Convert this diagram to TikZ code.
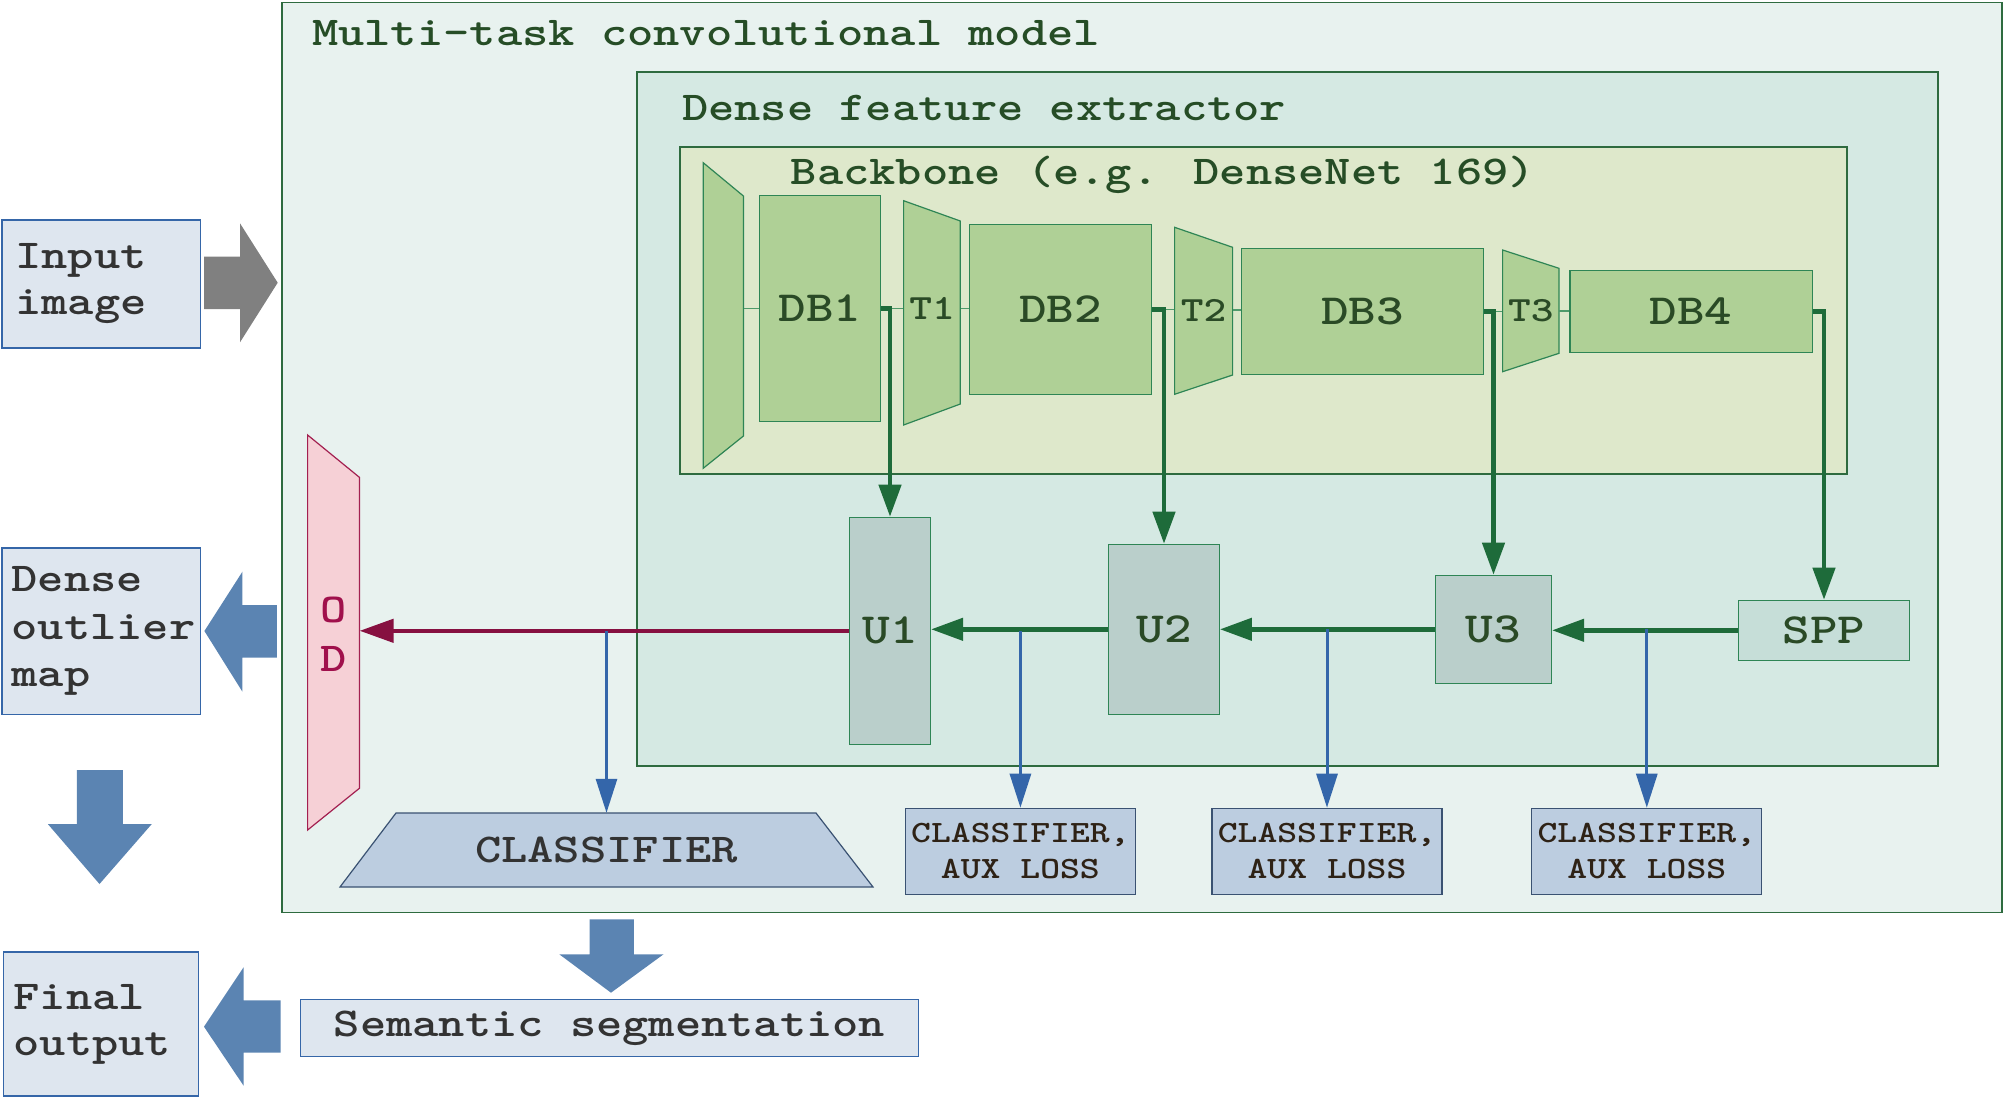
\documentclass[tikz,border=0pt]{standalone}
\usepackage{fontspec}
\usetikzlibrary{arrows.meta,calc}
\newfontfamily\tf[FakeStretch=1.22]{lmmonolt10-bold.otf}
\definecolor{frameg}{HTML}{2E6B3F}
\definecolor{outerf}{HTML}{E8F2EF}
\definecolor{dfef}{HTML}{D5E9E3}
\definecolor{bbf}{HTML}{DEE8CB}
\definecolor{blkf}{HTML}{AFD096}
\definecolor{blkd}{HTML}{2E8555}
\definecolor{ufill}{HTML}{BACFCB}
\definecolor{sppf}{HTML}{C6DED8}
\definecolor{titleg}{HTML}{264D26}
\definecolor{lblg}{HTML}{2A4A26}
\definecolor{garr}{HTML}{1E6B3A}
\definecolor{thinln}{HTML}{4E9A6A}
\definecolor{magc}{HTML}{861040}
\definecolor{bluec}{HTML}{3466AA}
\definecolor{clsf}{HTML}{BCCDE0}
\definecolor{clsd}{HTML}{3A5272}
\definecolor{lboxf}{HTML}{DEE6EF}
\definecolor{lboxd}{HTML}{3566A8}
\definecolor{bigb}{HTML}{5B84B2}
\definecolor{grayarr}{HTML}{808080}
\definecolor{odf}{HTML}{F6D0D6}
\definecolor{odd}{HTML}{A32050}
\definecolor{odt}{HTML}{A0104C}
\definecolor{auxt}{HTML}{2E2216}
\definecolor{darkt}{HTML}{333333}
\tikzset{
  container/.style={draw=frameg, line width=1.5pt, inner sep=0, anchor=north west},
  ttl/.style={anchor=base west, inner sep=0, text=titleg, font=\tf\fontsize{41}{46}\selectfont},
  blk/.style={draw=blkd, fill=blkf, line width=1.2pt, inner sep=0, text=lblg, font=\tf\fontsize{43}{50}\selectfont},
  trapshape/.style={draw=blkd, fill=blkf, line width=1.2pt},
  tlabel/.style={inner sep=0, text=lblg, font=\tf\fontsize{35.5}{40}\selectfont},
  ublk/.style={draw=blkd, fill=ufill, line width=1.2pt, inner sep=0, text=lblg, font=\tf\fontsize{43}{50}\selectfont},
  thinconn/.style={draw=thinln, line width=1.2pt},
  garrow/.style={draw=garr, line width=4.5pt, -{Triangle[length=32pt,width=22pt]}},
  barrow/.style={draw=bluec, line width=3pt, -{Triangle[length=34pt,width=21pt]}},
  marrow/.style={draw=magc, line width=4.5pt, -{Triangle[length=34pt,width=23pt]}},
  auxbox/.style={draw=clsd, fill=clsf, line width=1.2pt, inner sep=0, align=center, text=auxt, minimum width=230pt, minimum height=86pt, font=\tf\fontsize{31}{36}\selectfont},
  lbox/.style={draw=lboxd, fill=lboxf, line width=1.2pt, anchor=north west, align=left, text=darkt, font=\tf\fontsize{41}{46}\selectfont},
  bigarrow/.style={fill=bigb, draw=none},
}
\begin{document}
\begin{tikzpicture}[x=1pt,y=-1pt]
\useasboundingbox (0,0) rectangle (2003,1096);

% containers
\node[container, fill=outerf, minimum width=1720pt, minimum height=910pt] (mtm) at (281,1.5) {};
\node[ttl] (mtmt) at (312,45.7) {Multi-task convolutional model};
\node[container, fill=dfef, minimum width=1301pt, minimum height=694pt] (dfe) at (636,71) {};
\node[ttl] (dfet) at (682,120) {Dense feature extractor};
\node[container, fill=bbf, minimum width=1167pt, minimum height=327pt] (bb) at (679,146) {};
\node[ttl] (bbt) at (790.7,184.3) {Backbone (e.g. DenseNet 169)};

% backbone
\draw[trapshape] (703.2,162.7) -- (743.4,196) -- (743.4,436) -- (703.2,468.3) -- cycle;
\node[inner sep=0, minimum width=40.2pt, minimum height=240pt] (stem) at (723.3,316) {};
\node[blk, minimum width=121pt, minimum height=226pt] (db1) at (820,308.3) {DB1};
\draw[trapshape] (903.6,200.7) -- (960.3,221) -- (960.3,404) -- (903.6,425) -- cycle;
\node[tlabel, minimum width=56.7pt, minimum height=183pt] (t1) at (932,308.5) {T1};
\node[blk, minimum width=182pt, minimum height=170pt] (db2) at (1060.4,309.3) {DB2};
\draw[trapshape] (1174.6,227.3) -- (1232.6,247.3) -- (1232.6,375) -- (1174.6,394.3) -- cycle;
\node[tlabel, minimum width=58pt, minimum height=128pt] (t2) at (1203.6,310) {T2};
\node[blk, minimum width=242pt, minimum height=126pt] (db3) at (1362.5,311.3) {DB3};
\draw[trapshape] (1502.6,250) -- (1559,268.3) -- (1559,353.3) -- (1502.6,371.7) -- cycle;
\node[tlabel, minimum width=56.4pt, minimum height=85pt] (t3) at (1530.8,311) {T3};
\node[blk, minimum width=242.5pt, minimum height=82pt] (db4) at (1691.2,311.3) {DB4};

\draw[thinconn] (stem.east |- db1.west) -- (db1.west);
\draw[thinconn] (db1.east) -- (db1.east -| t1.west);
\draw[thinconn] (t1.east) -- (t1.east -| db2.west);
\draw[thinconn] (db2.east) -- (db2.east -| t2.west);
\draw[thinconn] (t2.east) -- (t2.east -| db3.west);
\draw[thinconn] (db3.east) -- (db3.east -| t3.west);
\draw[thinconn] (t3.east) -- (t3.east -| db4.west);

% decoder
\node[ublk, minimum width=81pt, minimum height=227pt] (u1) at (890,630.8) {U1};
\node[ublk, minimum width=110.7pt, minimum height=170pt] (u2) at (1164,629.3) {U2};
\node[ublk, minimum width=116pt, minimum height=108pt] (u3) at (1493.5,629.3) {U3};
\node[ublk, fill=sppf, minimum width=171.3pt, minimum height=60pt] (spp) at (1824,630.3) {SPP};

% OD
\draw[draw=odd, fill=odf, line width=1.2pt] (307.6,435) -- (359.4,477.3) -- (359.4,788.3) -- (307.6,830) -- cycle;
\node[inner sep=0, minimum width=51.8pt, minimum height=311pt, align=center, text=odt, font=\tf\fontsize{41}{49}\selectfont] (od) at (333.5,634) {O\\D};

% classifiers
\draw[draw=clsd, fill=clsf, line width=1.2pt] (396,813) -- (816,813) -- (873,887) -- (340,887) -- cycle;
\node[inner sep=0, minimum width=420pt, minimum height=74pt, text=darkt, font=\tf\fontsize{41}{46}\selectfont] (cls) at (606.5,850) {CLASSIFIER};
\node[auxbox] (aux1) at (1020.4,851.3) {CLASSIFIER,\\AUX LOSS};
\node[auxbox] (aux2) at (1327,851.3) {CLASSIFIER,\\AUX LOSS};
\node[auxbox] (aux3) at (1646.8,851.3) {CLASSIFIER,\\AUX LOSS};

% connectors
\draw[garrow] (db1.east) -| (u1.north);
\draw[garrow] (db2.east) -| (u2.north);
\draw[garrow] (db3.east) -| (u3.north);
\draw[garrow] (db4.east) -| (spp.north);
\draw[garrow] (spp.west) -- (spp.west -| u3.east);
\draw[garrow] (u3.west) -- (u3.west -| u2.east);
\draw[garrow] (u2.west) -- (u2.west -| u1.east);
\draw[marrow] (u1.west) -- (u1.west -| od.east);
\draw[barrow] (cls.north |- u1.west) -- (cls.north);
\draw[barrow] (aux1.north |- u1.east) -- (aux1.north);
\draw[barrow] (aux2.north |- u2.east) -- (aux2.north);
\draw[barrow] (aux3.north |- u3.east) -- (aux3.north);

% left column
\node[lbox, minimum width=198.3pt, minimum height=128pt, text width=172pt, inner xsep=13.4pt] (inp) at (1.3,219.3) {Input\\image};
\node[lbox, minimum width=198.3pt, minimum height=166.7pt, text width=179pt, inner xsep=9.7pt, font=\tf\fontsize{41}{47.5}\selectfont] (dom) at (1.3,547.3) {Dense\\outlier\\map};
\node[lbox, minimum width=195pt, minimum height=144pt, text width=175pt, inner xsep=10pt] (fo) at (3,951.3) {Final\\output};
\node[lbox, anchor=center, align=center, minimum width=618pt, minimum height=57pt] (sem) at (609.5,1028) {Semantic segmentation};

% block arrows
\fill[grayarr] (204,256.7) -- (240,256.7) -- (240,223.3) -- (277.7,282.7) -- (240,342.3) -- (240,309) -- (204,309) -- cycle;
\fill[bigb] (276.8,605) -- (242.4,605) -- (242.4,571.7) -- (204.4,631) -- (242.4,691.7) -- (242.4,657.7) -- (276.8,657.7) -- cycle;
\fill[bigb] (76.8,770) -- (122.8,770) -- (122.8,824) -- (151.8,824) -- (99.5,884) -- (47.8,824) -- (76.8,824) -- cycle;
\fill[bigb] (589.5,919.3) -- (633.8,919.3) -- (633.8,954.3) -- (663.5,954.3) -- (611,992.7) -- (559.3,954.3) -- (589.5,954.3) -- cycle;
\fill[bigb] (280.5,1000.3) -- (243.6,1000.3) -- (243.6,967.3) -- (204,1026.7) -- (243.6,1085.7) -- (243.6,1052.7) -- (280.5,1052.7) -- cycle;
\end{tikzpicture}
\end{document}
